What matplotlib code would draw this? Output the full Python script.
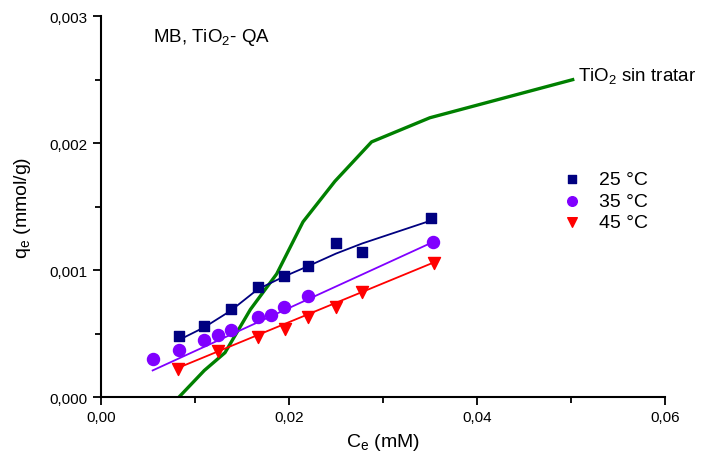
import matplotlib
matplotlib.use("Agg")
import matplotlib.pyplot as plt
from matplotlib.ticker import MultipleLocator, FuncFormatter

plt.rcParams['font.family'] = ['Liberation Sans', 'DejaVu Sans']
plt.rcParams['mathtext.fontset'] = 'custom'
plt.rcParams['mathtext.rm'] = 'Liberation Sans'
plt.rcParams['mathtext.it'] = 'Liberation Sans'

# 25 °C
x25 = [0.0083, 0.0110, 0.0138, 0.0167, 0.0195, 0.0220, 0.0250, 0.0278, 0.0351]
y25 = [0.00048, 0.00056, 0.00069, 0.00087, 0.00095, 0.00103, 0.00121, 0.00114, 0.00141]
fit25 = [0.00045, 0.00055, 0.00068, 0.00085, 0.00095, 0.00103, 0.00113, 0.00121, 0.00139]

# 35 °C
x35 = [0.0055, 0.0083, 0.0110, 0.0125, 0.0138, 0.0167, 0.0181, 0.0195, 0.0220, 0.0353]
y35 = [0.00030, 0.00037, 0.00045, 0.00049, 0.00053, 0.00063, 0.00065, 0.00071, 0.00080, 0.00122]
fit35_x = [0.0055, 0.0353]
fit35_y = [0.00021, 0.00122]

# 45 °C
x45 = [0.0082, 0.0125, 0.0167, 0.0196, 0.0220, 0.0250, 0.0278, 0.0354]
y45 = [0.00022, 0.00036, 0.00047, 0.00054, 0.00063, 0.00071, 0.00083, 0.00106]
fit45_x = [0.0082, 0.0354]
fit45_y = [0.00023, 0.00106]

# TiO2 sin tratar
xg = [0.0083, 0.0110, 0.0132, 0.0159, 0.0187, 0.0215, 0.0249, 0.0288, 0.0350, 0.0502]
yg = [0.0, 0.00021, 0.00035, 0.00069, 0.00097, 0.00138, 0.00170, 0.00201, 0.00220, 0.00250]

fig = plt.figure(figsize=(7.11, 4.64), dpi=100)
ax = fig.add_axes([0.142, 0.142, 0.793, 0.821])

ax.plot(xg, yg, color='#008000', lw=2.4, zorder=1)

ax.plot(x25, fit25, color='#000080', lw=1.3, zorder=2)
ax.plot(fit35_x, fit35_y, color='#8000FF', lw=1.3, zorder=2)
ax.plot(fit45_x, fit45_y, color='#FF0000', lw=1.3, zorder=2)

s25 = ax.scatter(x25, y25, marker='s', s=60, color='#000080', zorder=3, label='25 °C')
s35 = ax.scatter(x35, y35, marker='o', s=75, color='#8000FF', zorder=3, label='35 °C')
s45 = ax.scatter(x45, y45, marker='v', s=75, color='#FF0000', zorder=3, label='45 °C')

ax.set_xlim(0, 0.06)
ax.set_ylim(0, 0.003)
ax.xaxis.set_major_locator(MultipleLocator(0.02))
ax.xaxis.set_minor_locator(MultipleLocator(0.01))
ax.yaxis.set_major_locator(MultipleLocator(0.001))
ax.yaxis.set_minor_locator(MultipleLocator(0.0005))
ax.xaxis.set_major_formatter(FuncFormatter(lambda v, p: f"{v:.2f}".replace('.', ',')))
ax.yaxis.set_major_formatter(FuncFormatter(lambda v, p: f"{v:.3f}".replace('.', ',')))

for s in ['top', 'right']:
    ax.spines[s].set_visible(False)
for s in ['left', 'bottom']:
    ax.spines[s].set_linewidth(1.5)
ax.tick_params(which='major', direction='out', length=6, width=1.3, labelsize=11)
ax.tick_params(which='minor', direction='out', length=4, width=1.3)

ax.set_xlabel('C$_e$ (mM)', fontsize=14, labelpad=5)
ax.set_ylabel('q$_e$ (mmol/g)', fontsize=14, labelpad=12)

ax.text(0.0055, 0.00284, 'MB, TiO$_2$- QA', fontsize=13.5, va='center', ha='left')
ax.text(0.0508, 0.00254, 'TiO$_2$ sin tratar', fontsize=13.5, va='center', ha='left')

ax.legend(handles=[s25, s35, s45], loc='upper left', bbox_to_anchor=(0.77, 0.64),
          frameon=False, fontsize=14, handletextpad=0.4, labelspacing=0.2,
          scatterpoints=1, markerscale=0.8)

fig.savefig('out.png', dpi=100)
